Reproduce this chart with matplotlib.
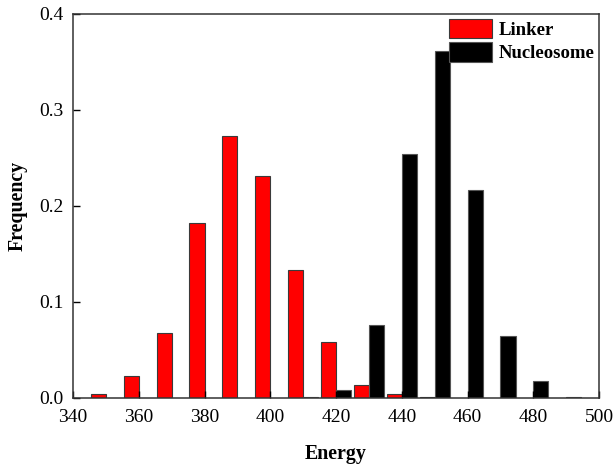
import matplotlib
matplotlib.use('Agg')
import matplotlib.pyplot as plt

plt.rcParams['font.family'] = ['Liberation Serif', 'DejaVu Serif']

# bin centres and frequencies
linker_bins = [350, 360, 370, 380, 390, 400, 410, 420, 430, 440, 450]
linker_freq = [0.0045, 0.023, 0.068, 0.182, 0.2725, 0.2317, 0.1334, 0.058,
               0.013, 0.004, 0.0015]

nucl_bins = [410, 420, 430, 440, 450, 460, 470, 480, 490]
nucl_freq = [0.0008, 0.0085, 0.0758, 0.2544, 0.3613, 0.2163, 0.0646,
             0.0175, 0.0008]

xticks = [340, 360, 380, 400, 420, 440, 460, 480, 500]
yticks = [0.0, 0.1, 0.2, 0.3, 0.4]

fig = plt.figure(figsize=(6.16, 4.66), dpi=100)
ax = fig.add_axes([0.1185, 0.146, 0.854, 0.824])

bw = 4.6
ax.bar(linker_bins, linker_freq, width=-bw, align='edge', color='#ff0000',
       edgecolor='#3a3a3a', linewidth=0.8, label='Linker')
ax.bar(nucl_bins, nucl_freq, width=bw, align='edge', color='black',
       edgecolor='#555555', linewidth=0.8, label='Nucleosome')

ax.set_xlim(340, 500)
ax.set_ylim(0, 0.4)
ax.set_xticks(xticks)
ax.set_yticks(yticks)
ax.set_yticklabels(['%.1f' % v for v in yticks])
ax.tick_params(direction='in', length=5, width=1, labelsize=14,
               top=False, right=False)
ax.tick_params(axis='x', pad=8)
ax.tick_params(axis='y', pad=7)
for s in ax.spines.values():
    s.set_linewidth(1.1)
    s.set_color('#333333')

ax.set_xlabel('Energy', fontsize=14.3, fontweight='bold', labelpad=13)
ax.set_ylabel('Frequency', fontsize=14.3, fontweight='bold', labelpad=8)

leg = ax.legend(loc='upper right', frameon=False,
                prop={'weight': 'bold', 'size': 13.5},
                handlelength=2.3, handleheight=1.2, handletextpad=0.35,
                labelspacing=0.2, borderaxespad=0.15, borderpad=0.1)

fig.savefig('out.png', dpi=100)
